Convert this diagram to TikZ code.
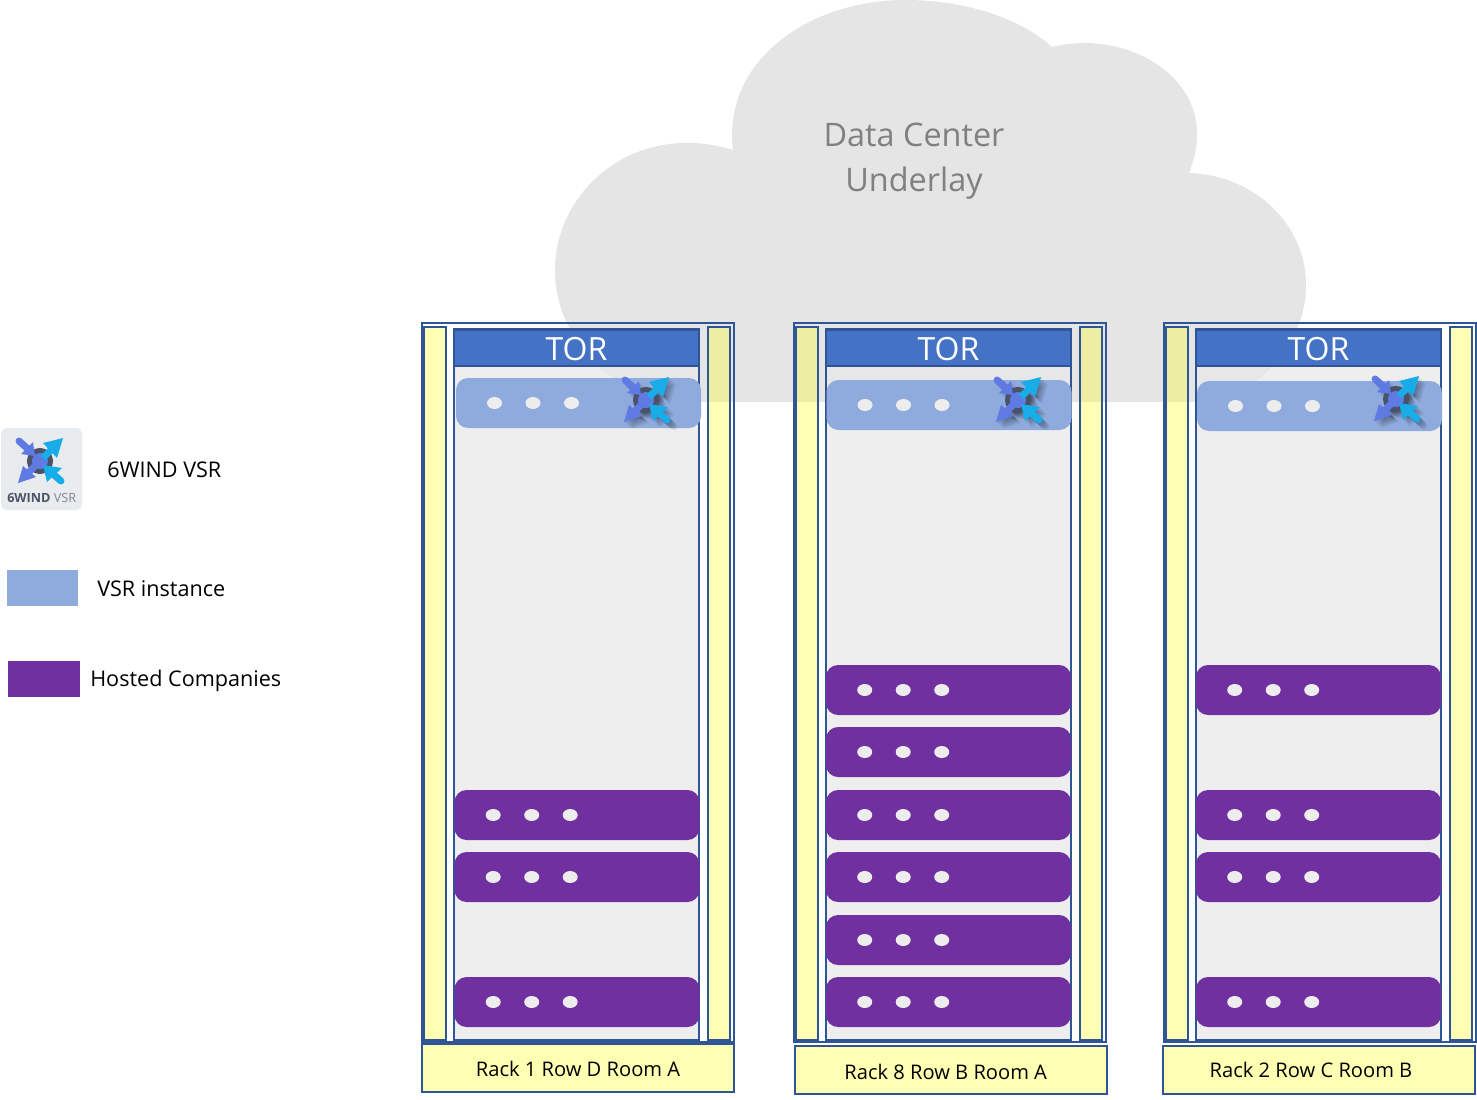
\documentclass[tikz,border=0pt]{standalone}
\usepackage{fontspec}
\setmainfont{Open Sans}
\definecolor{edgeblue}{HTML}{2F5597}
\definecolor{torblue}{HTML}{4472C4}
\definecolor{railyellow}{HTML}{FFFF26}
\definecolor{labelyellow}{HTML}{FFFFB3}
\definecolor{vsrblue}{HTML}{8FAADC}
\definecolor{hostpurple}{HTML}{7030A0}
\definecolor{rackgrey}{HTML}{E8E8E8}
\definecolor{dotgrey}{HTML}{EDEDED}
\definecolor{cloudgrey}{HTML}{E5E5E5}
\definecolor{iconviolet}{HTML}{5F7AE2}
\definecolor{iconcyan}{HTML}{18ADE9}
\definecolor{iconring}{HTML}{4A5268}
\definecolor{logogrey}{HTML}{E9ECEF}
\tikzset{
  x=0.75pt,y=-0.75pt,
  rail/.style={draw=edgeblue,line width=1.5pt,fill=railyellow,fill opacity=.35},
  rackframe/.style={draw=edgeblue,line width=1.5pt},
  rackbody/.style={draw=edgeblue,line width=1.5pt,fill=rackgrey,fill opacity=.73},
  torbar/.style={draw=edgeblue,line width=1.5pt,fill=torblue,text=white,font=\fontsize{24}{24}\selectfont,inner sep=0pt,outer sep=0pt},
  labelbox/.style={draw=edgeblue,line width=1.5pt,fill=labelyellow,font=\fontsize{15.1}{18}\selectfont,inner sep=0pt,outer sep=0pt},
  vsrbar/.style={fill=vsrblue,rounded corners=9pt},
  hostbar/.style={fill=hostpurple,rounded corners=9pt},
  legendtext/.style={font=\fontsize{16.2}{18}\selectfont,anchor=west,inner sep=0pt},
  cloudtext/.style={font=\fontsize{24.3}{34}\selectfont,text=black!50,align=center,inner sep=0pt}
}
% Outline of the VSR emblem in two colours, drawn around the origin
\newcommand{\emblemshape}[3]{%
  \draw[#3,#1,line width=5.25pt,line cap=round] (-21,-20) -- (-12,-12);
  \fill[#3,#1] (-5,-5) -- (-7,-19) -- (-19,-7) -- cycle;
  \draw[#3,#1,line width=5.25pt] (-12,12) -- (-1,1);
  \fill[#3,#1] (-22,22) -- (-17,5) -- (-4,16) -- cycle;
  \draw[#3,#2,line width=5.25pt] (3,-3) -- (12,-12);
  \fill[#3,#2] (23,-23) -- (3,-18) -- (17,-3) -- cycle;
  \draw[#3,#2,line width=5.25pt,line cap=round] (21,20) -- (12,12);
  \fill[#3,#2] (3,4) -- (22,7) -- (7,21) -- cycle;
}
% Emblem with ring and centre
\newcommand{\vsremblem}[2]{%
  \begin{scope}[shift={(#1,#2)}]
    \draw[iconring,line width=4.5pt] (0,0) circle[radius=10];
    \fill[iconviolet] (0,0) circle[radius=8];
    \emblemshape{iconviolet}{iconcyan}{}
  \end{scope}%
}
% Soft shadow lying under an emblem
\newcommand{\emblemshadow}[2]{%
  \foreach \s in {1,2,...,7} {
    \begin{scope}[shift={(#1+\s,#2+\s)}]
      \emblemshape{black}{black}{opacity=.05}
      \fill[black,opacity=.05] (0,0) circle[radius=13];
    \end{scope}
  }
}
% A hosted server bar with its three status dots
\newcommand{\serverbar}[2]{%
  \path[hostbar] (#1,#2) rectangle ++(245,50);
  \foreach \dx in {38.7,77.2,115.7} {
    \fill[dotgrey] (#1+\dx,#2+25) ellipse[x radius=7.5,y radius=6];
  }
}
% Frame, rails, body and TOR of a rack, then its VSR bar and caption
% name, frame x, vsr x, vsr y, caption tail space, caption x, caption y, caption
\newcommand{\rack}[8]{%
  \draw[rackframe] (#2,323) rectangle ++(312,719);
  \path[rail] (#2+2,327) rectangle ++(22,713);
  \path[rackbody] (#2+32,329) rectangle ++(245,711);
  \path[rail] (#2+285.5,327) rectangle ++(22.5,713);
  \node[torbar,minimum width=183.75pt,minimum height=27pt,anchor=north west] (#1tor) at (#2+32,330) {\rule{0pt}{18.6pt}TOR};
  \path[vsrbar] (#3,#4) rectangle ++(245,50);
  \foreach \dx in {38.5,77,115.5} {
    \fill[dotgrey] (#3+\dx,#4+25) ellipse[x radius=7.5,y radius=6];
  }
  \node[labelbox,minimum width=234pt,minimum height=36pt,anchor=north west] (#1label) at (#6,#7) {#8\hspace*{#5}};
}
\begin{document}
\begin{tikzpicture}
\useasboundingbox (0,0) rectangle (1477,1099);
\fill[white] (0,0) rectangle (1477,1099);
% Underlay cloud, cut flat along its lower edge
\begin{scope}
  \clip (500,0) rectangle (1400,401);
  \fill[cloudgrey] (733,150)
    .. controls (722,60) and (810,0) .. (905,0)
    .. controls (965,0) and (1020,18) .. (1052,47)
    .. controls (1120,30) and (1198,70) .. (1197,135)
    .. controls (1197,148) and (1194,160) .. (1189,173)
    .. controls (1255,175) and (1306,225) .. (1306,285)
    .. controls (1306,320) and (1290,352) .. (1260,378)
    .. controls (1245,390) and (1230,400) .. (1215,410)
    -- (660,410)
    .. controls (640,396) and (620,382) .. (600,369)
    .. controls (570,340) and (555,305) .. (555,270)
    .. controls (555,190) and (635,120) .. (733,150) -- cycle;
\end{scope}
\node[cloudtext] (cloudlabel) at (914,161) {Data Center\\Underlay};

% Racks
\rack{a}{422}{456}{378}{0pt}{422}{1044}{\rule{0pt}{12.3pt}Rack 1 Row D Room A}
\rack{b}{794}{826.5}{380}{8pt}{795}{1046}{\rule{0pt}{13.8pt}Rack 8 Row B Room A}
\rack{c}{1164}{1197}{381}{12pt}{1163}{1046}{Rack 2 Row C Room B}
\emblemshadow{646}{400}
\emblemshadow{1018}{400}
\emblemshadow{1396}{399}
\vsremblem{646}{400}
\vsremblem{1018}{400}
\vsremblem{1396}{399}
% Hosted company servers
\foreach \y in {790,852,977} {\serverbar{454.5}{\y}}
\foreach \y in {665,727,790,852,915,977} {\serverbar{826}{\y}}
\foreach \y in {665,790,852,977} {\serverbar{1196}{\y}}

% Legend
\fill[logogrey,rounded corners=4pt] (1,428) rectangle (82,510);
\vsremblem{40}{461}
\node[font=\fontsize{9.5}{10}\selectfont,text=iconring,anchor=west,inner sep=0pt] (logotext) at (7,497.5) {\textbf{6WIND} \textcolor{iconring!70}{VSR}};
\node[legendtext] (leg1) at (107,469.5) {6WIND VSR};
\fill[vsrblue] (7,570) rectangle (78,606);
\node[legendtext] (leg2) at (97,588.5) {VSR instance};
\fill[hostpurple] (8,661) rectangle (80,697);
\node[legendtext] (leg3) at (90,681) {Hosted Companies};
\end{tikzpicture}
\end{document}
